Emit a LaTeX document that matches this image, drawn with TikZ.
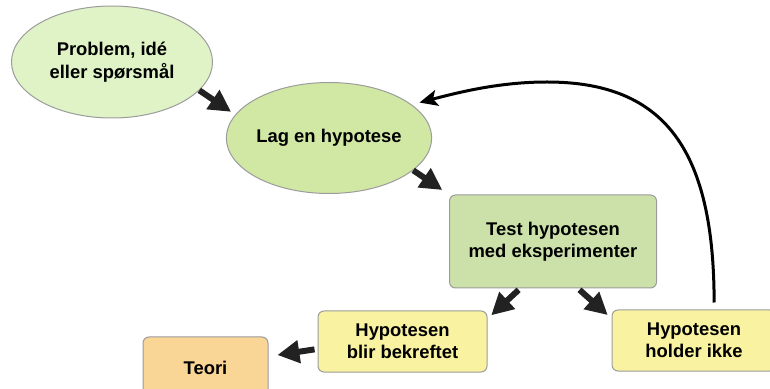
\documentclass[tikz,border=0pt]{standalone}
\usepackage{fontspec}
\setmainfont{Liberation Sans}
\usetikzlibrary{arrows.meta,shapes.geometric}
\definecolor{mint}{HTML}{DFF3C6}
\definecolor{leaf}{HTML}{D0E8A4}
\definecolor{sage}{HTML}{CBE1A9}
\definecolor{lemon}{HTML}{F9F2A0}
\definecolor{peach}{HTML}{F9D596}
\definecolor{rim}{HTML}{9C9C9C}
\definecolor{ink}{HTML}{222222}
\tikzset{oval/.style={ellipse,draw=rim,line width=0.5pt,align=center,font=\bfseries\fontsize{9.2}{11.5}\selectfont,inner sep=0pt,minimum width=100.5pt,minimum height=56pt},boks/.style={draw=rim,line width=0.5pt,rounded corners=3pt,align=center,font=\bfseries\fontsize{9.2}{11.2}\selectfont,inner sep=0pt,minimum width=84.5pt,minimum height=30.5pt},pil/.style={-{Triangle[length=11pt,width=11pt]},line width=3pt,draw=ink},retur/.style={-{Stealth[length=9pt,width=8pt,inset=2pt]},line width=1.5pt,draw=black}}

\begin{document}
\begin{tikzpicture}[x=0.5pt,y=-0.5pt]
\clip (0,0) rectangle (770,389);
\node[oval,fill=mint] (problem) at (112,62) {Problem, idé\\eller spørsmål};
\node[oval,fill=leaf,minimum height=55.5pt] (hypo) at (329,138) {Lag en hypotese};
\node[boks,fill=sage,minimum width=103.5pt,minimum height=46.5pt] (test) at (553,241.5) {Test hypotesen\\med eksperimenter};
\node[boks,fill=lemon] (bekreftet) at (402.5,341.5) {Hypotesen\\blir bekreftet};
\node[boks,fill=peach,minimum width=62.5pt] (teori) at (205.5,367.5) {Teori};
\node[boks,fill=lemon,minimum width=82pt] (ikke) at (694,340.5) {Hypotesen\\holder ikke};
\draw[pil,shorten >=2.5pt] (problem.-18) -- (hypo.166);
\draw[pil,shorten >=4pt] (hypo.-21) -- (test.north west);
\draw[pil,shorten <=1pt,shorten >=2.5pt] (test.-125) -- (bekreftet.15);
\draw[pil,shorten <=1pt,shorten >=2.5pt] (test.-62) -- (ikke.165);
\draw[pil,shorten <=1.5pt,shorten >=4.5pt] (bekreftet.185) -- (teori.10);
\draw[retur,shorten <=3.5pt,shorten >=4pt] (ikke.57) .. controls (714,150) and (665,82) .. (547,82) .. controls (500,82) and (460,92) .. (hypo.22);
\end{tikzpicture}
\end{document}
